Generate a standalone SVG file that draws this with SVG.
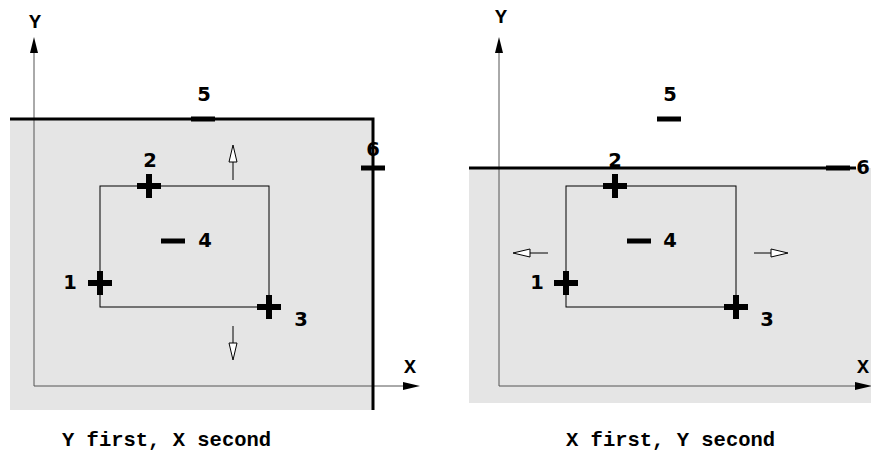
<svg xmlns="http://www.w3.org/2000/svg" width="871" height="454" viewBox="0 0 871 454">
<style>
.bg{fill:#e5e5e5;stroke:none}
.thick{fill:none;stroke:#000;stroke-width:3}
.axis{fill:none;stroke:#555;stroke-width:1}
.ah{fill:#000;stroke:none}
.box{fill:none;stroke:#000;stroke-width:1}
.oh{fill:#fff;stroke:#000;stroke-width:1}
.mk{fill:#000}
.num{font-family:"DejaVu Sans",sans-serif;font-weight:bold;font-size:19.5px;text-anchor:middle}
.mono{font-family:"Liberation Mono","Courier New",monospace;font-weight:bold;font-size:20.5px}
.axl{font-family:"Liberation Mono","Courier New",monospace;font-weight:bold;font-size:20px;text-anchor:middle}
</style>
<defs>
<g id="plus"><rect x="-12" y="-3" width="24" height="6"/><rect x="-3" y="-12" width="6" height="24"/></g>
<rect id="dash" x="-12" y="-2.5" width="24" height="5"/>
</defs>

<g id="panel-left">
<rect class="bg" x="10" y="119" width="363" height="291"/>
<g id="axes-left">
<line class="axis" x1="34" y1="386" x2="34" y2="52"/>
<polygon class="ah" points="34,37 30,53 38,53"/>
<line class="axis" x1="34" y1="386" x2="404" y2="386"/>
<polygon class="ah" points="420,386 403,382 403,390"/>
<text class="axl" x="35" y="28">Y</text>
<text class="axl" x="410" y="373">X</text>
</g>
<g id="connectors-left">
<polyline class="thick" points="10,119 373,119 373,410"/>
<rect class="box" x="100" y="186" width="169" height="121"/>
<line class="box" x1="233" y1="180" x2="233" y2="162"/>
<polygon class="oh" points="233,145 229,162 237,162"/>
<line class="box" x1="233" y1="326" x2="233" y2="343"/>
<polygon class="oh" points="233,360 229,343 237,343"/>
</g>
<g id="L-p1"><use href="#plus" x="100" y="283"/><text class="num" x="70" y="289">1</text></g>
<g id="L-p2"><use href="#plus" x="149" y="186"/><text class="num" x="150" y="167">2</text></g>
<g id="L-p3"><use href="#plus" x="269" y="307"/><text class="num" x="301" y="326">3</text></g>
<g id="L-p4"><use href="#dash" x="173" y="241"/><text class="num" x="205" y="247">4</text></g>
<g id="L-p5"><use href="#dash" x="203" y="119"/><text class="num" x="204" y="101">5</text></g>
<g id="L-p6"><use href="#dash" x="373" y="168"/><text class="num" x="373" y="156">6</text></g>
<text class="mono" x="62" y="446">Y first, X second</text>
</g>

<g id="panel-right">
<rect class="bg" x="469" y="168" width="402" height="235"/>
<g id="axes-right">
<line class="axis" x1="499" y1="386" x2="499" y2="52"/>
<polygon class="ah" points="499,37 495,53 503,53"/>
<line class="axis" x1="499" y1="386" x2="856" y2="386"/>
<polygon class="ah" points="872,386 855,382 855,390"/>
<text class="axl" x="501" y="23">Y</text>
<text class="axl" x="863" y="373">X</text>
</g>
<g id="connectors-right">
<line class="thick" x1="469" y1="168" x2="856" y2="168"/>
<rect class="box" x="566" y="186" width="170" height="121"/>
<line class="box" x1="548" y1="253" x2="530" y2="253"/>
<polygon class="oh" points="513,253 530,249 530,257"/>
<line class="box" x1="754" y1="253" x2="771" y2="253"/>
<polygon class="oh" points="788,253 771,249 771,257"/>
</g>
<g id="R-p1"><use href="#plus" x="566" y="283"/><text class="num" x="537" y="289">1</text></g>
<g id="R-p2"><use href="#plus" x="615" y="186"/><text class="num" x="615" y="167">2</text></g>
<g id="R-p3"><use href="#plus" x="736" y="307"/><text class="num" x="767" y="326">3</text></g>
<g id="R-p4"><use href="#dash" x="639" y="241"/><text class="num" x="670" y="247">4</text></g>
<g id="R-p5"><use href="#dash" x="669" y="119"/><text class="num" x="670" y="101">5</text></g>
<g id="R-p6"><use href="#dash" x="838" y="168"/><text class="num" x="863" y="174">6</text></g>
<text class="mono" x="566" y="446">X first, Y second</text>
</g>
</svg>
